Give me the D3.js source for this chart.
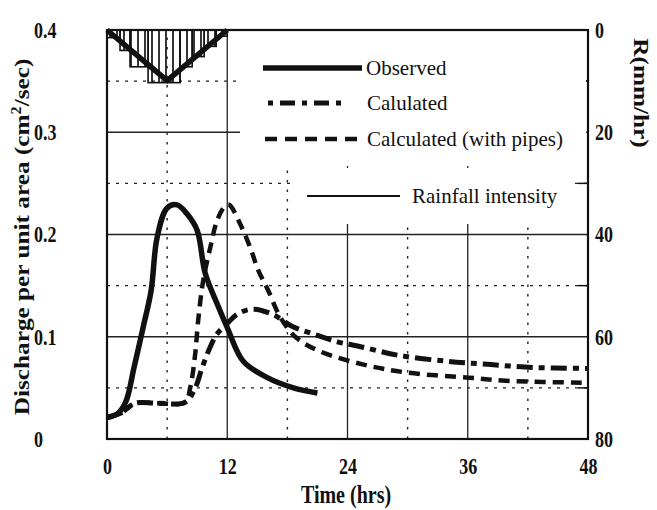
<!DOCTYPE html>
<html>
<head>
<meta charset="utf-8">
<script src="https://cdn.jsdelivr.net/npm/d3@7"></script>
<style>
body{margin:0;background:#fff;}
text{font-family:"Liberation Serif","Times New Roman",serif;fill:#111;}
</style>
</head>
<body>
<div id="container"></div>
<script>
var width = 657;
var height = 510;

// observed hydrograph (hrs, cm2/sec per unit area)
var obsT = [0, 1.1, 1.9, 2.7, 3.6, 4.4, 5.0, 6.0, 7.0, 8.0, 9.0, 9.8, 11.0, 12.0, 13.6, 16.0, 18.6, 21.0];
var obsQ = [0.021, 0.025, 0.037, 0.07, 0.109, 0.145, 0.197, 0.226, 0.229, 0.22, 0.204, 0.162, 0.132, 0.109, 0.076, 0.06, 0.05, 0.045];

// calculated (dash-dot)
var calT = [0, 1.5, 2.8, 5.0, 7.8, 8.8, 9.5, 10.3, 11.0, 12.0, 13.0, 14.5, 16.5, 18.5, 20.5, 23.0, 25.0, 29.0, 34.0, 38.0, 42.5, 48.0];
var calQ = [0.021, 0.026, 0.035, 0.035, 0.036, 0.05, 0.07, 0.09, 0.103, 0.113, 0.122, 0.127, 0.122, 0.11, 0.103, 0.095, 0.091, 0.082, 0.076, 0.073, 0.070, 0.069];

// calculated with pipes (dashed)
var pipT = [0, 1.5, 2.8, 5.0, 7.8, 8.3, 8.8, 9.1, 9.6, 10.3, 11.0, 11.8, 12.2, 13.3, 14.3, 15.1, 16.1, 17.3, 18.9, 21.2, 25.5, 29.9, 36.1, 39.8, 48.0];
var pipQ = [0.021, 0.026, 0.035, 0.035, 0.036, 0.05, 0.083, 0.116, 0.155, 0.187, 0.214, 0.228, 0.229, 0.21, 0.187, 0.165, 0.145, 0.119, 0.099, 0.086, 0.073, 0.065, 0.06, 0.057, 0.055];

// rainfall hyetograph (mm/hr), bar edges in hrs
var rainEdges = [0, 1.3, 2.3, 4.1, 7.3, 8.5, 9.7, 10.9, 12];
var rainR = [1.5, 4, 7.2, 10.3, 7.2, 5.2, 3.2, 1.2];
// rainfall intensity line
var rainLineT = [0, 6, 12];
var rainLineR = [0, 9.9, 0];

var xTicks = [0, 12, 24, 36, 48];
var yTicks = [0, 0.1, 0.2, 0.3, 0.4];
var rTicks = [0, 20, 40, 60, 80];
var rMinor = [10, 30, 50, 70];

var legendNames = ["Observed", "Calulated", "Calculated (with pipes)", "Rainfall intensity"];

var x = d3.scaleLinear().domain([0, 48]).range([107, 588]);
var y = d3.scaleLinear().domain([0, 0.4]).range([439, 30]);
var r = d3.scaleLinear().domain([0, 80]).range([30, 439]);

var svg = d3.select("div#container").append("svg")
	.attr("width", width)
	.attr("height", height)
	.style("background", "white");

var defs = svg.append("defs");
var pat = defs.append("pattern")
	.attr("id", "hatch")
	.attr("patternUnits", "userSpaceOnUse")
	.attr("width", 7)
	.attr("height", 10)
	.attr("x", 107);
pat.append("line")
	.attr("x1", 3).attr("x2", 3)
	.attr("y1", 0).attr("y2", 10)
	.attr("stroke", "#111")
	.attr("stroke-width", 1.7);

// grid lines
var G = svg.append("g").attr("id", "grid");
var xGrid = d3.range(6, 48, 6);
var yGrid = d3.range(1, 8).map(function(i){ return i * 0.05; });

G.selectAll("line.xg")
	.data(xGrid)
	.enter()
	.append("line")
	.attr("class", "xg")
	.attr("x1", function(d){ return x(d); })
	.attr("x2", function(d){ return x(d); })
	.attr("y1", y(0))
	.attr("y2", y(0.4))
	.attr("stroke", "#222")
	.attr("stroke-width", function(d){ return d % 12 == 0 ? 1.3 : 1.4; })
	.attr("stroke-dasharray", function(d){ return d % 12 == 0 ? null : "2.5,7"; });

G.selectAll("line.yg")
	.data(yGrid)
	.enter()
	.append("line")
	.attr("class", "yg")
	.attr("x1", x(0))
	.attr("x2", x(48))
	.attr("y1", function(d){ return y(d); })
	.attr("y2", function(d){ return y(d); })
	.attr("stroke", "#222")
	.attr("stroke-width", function(d,i){ return (i % 2 == 1) ? 1.3 : 1.4; })
	.attr("stroke-dasharray", function(d,i){ return (i % 2 == 1) ? null : "3,6"; });

// right axis minor ticks (inside)
G.selectAll("line.rm")
	.data(rMinor)
	.enter()
	.append("line")
	.attr("class", "rm")
	.attr("x1", x(48) - 10).attr("x2", x(48))
	.attr("y1", function(d){ return r(d); })
	.attr("y2", function(d){ return r(d); })
	.attr("stroke", "#111")
	.attr("stroke-width", 1.5);

// legend boxes hide the grid behind them
svg.append("rect").attr("x", 240).attr("y", 31).attr("width", 346).attr("height", 135).attr("fill", "white");
svg.append("rect").attr("x", 292).attr("y", 168).attr("width", 282).attr("height", 56).attr("fill", "white");

// hyetograph bars
var bars = rainR.map(function(v, i){ return {t0: rainEdges[i], t1: rainEdges[i+1], R: v}; });
svg.append("g").selectAll("rect")
	.data(bars)
	.enter()
	.append("rect")
	.attr("x", function(d){ return x(d.t0); })
	.attr("y", r(0))
	.attr("width", function(d){ return x(d.t1) - x(d.t0); })
	.attr("height", function(d){ return r(d.R) - r(0); })
	.attr("fill", "url(#hatch)")
	.attr("stroke", "#111")
	.attr("stroke-width", 1.6);

svg.append("path")
	.datum(rainLineT.map(function(t, i){ return [t, rainLineR[i]]; }))
	.attr("fill", "none")
	.attr("stroke", "#111")
	.attr("stroke-width", 5.5)
	.attr("stroke-linejoin", "round")
	.attr("d", d3.line().x(function(d){ return x(d[0]); }).y(function(d){ return r(d[1]); }));

// hydrographs
function pts(ts, qs){ return ts.map(function(t, i){ return [t, qs[i]]; }); }
var line = d3.line()
	.x(function(d){ return x(d[0]); })
	.y(function(d){ return y(d[1]); })
	.curve(d3.curveCatmullRom.alpha(0.5));

var series = [
	{name: legendNames[0], data: pts(obsT, obsQ), w: 5.5, dash: null},
	{name: legendNames[1], data: pts(calT, calQ), w: 5, dash: "16,6,6,6"},
	{name: legendNames[2], data: pts(pipT, pipQ), w: 4.5, dash: "11,7"}
];

svg.append("g").selectAll("path")
	.data(series.slice().reverse())
	.enter()
	.append("path")
	.attr("fill", "none")
	.attr("stroke", "#111")
	.attr("stroke-width", function(d){ return d.w; })
	.attr("stroke-dasharray", function(d){ return d.dash; })
	.attr("stroke-linecap", "butt")
	.attr("d", function(d){ return line(d.data); });

// frame
svg.append("rect")
	.attr("x", x(0)).attr("y", y(0.4))
	.attr("width", x(48) - x(0)).attr("height", y(0) - y(0.4))
	.attr("fill", "none")
	.attr("stroke", "#111")
	.attr("stroke-width", 2.2);

// axes labels (the scanned figure is stretched vertically, so the glyphs are too)
var fmtY = function(d){ return d == 0 ? "0" : d3.format(".1f")(d); };
var ax = svg.append("g")
	.attr("transform", "translate(0," + y(0) + ")")
	.call(d3.axisBottom(x).tickValues(xTicks).tickSize(0).tickPadding(20));
var ay = svg.append("g")
	.attr("transform", "translate(" + x(0) + ",0)")
	.call(d3.axisLeft(y).tickValues(yTicks).tickFormat(fmtY).tickSize(0).tickPadding(0));
var ar = svg.append("g")
	.attr("transform", "translate(" + x(48) + ",0)")
	.call(d3.axisRight(r).tickValues(rTicks).tickSize(0).tickPadding(7));

[ax, ay, ar].forEach(function(a){
	a.select(".domain").remove();
	a.selectAll("text")
		.style("font-family", "'Liberation Serif', serif")
		.style("font-weight", "bold")
		.style("font-size", "18px")
		.attr("fill", "#111");
});
ay.selectAll("text").attr("text-anchor", "start").attr("x", 34 - x(0))
	.attr("transform", "scale(1,1.3)");
ar.selectAll("text").attr("transform", "scale(1,1.3)");
ax.selectAll("text").attr("transform", "translate(0,26) scale(1,1.3) translate(0,-26)");

// titles
svg.append("text")
	.attr("transform", "translate(346,503) scale(1,1.25)")
	.attr("text-anchor", "middle")
	.style("font-weight", "bold").style("font-size", "20px")
	.text("Time (hrs)");

var yt = svg.append("text")
	.attr("transform", "translate(29,237) rotate(-90) scale(1.15,1)")
	.attr("text-anchor", "middle")
	.style("font-weight", "bold").style("font-size", "22px");
yt.append("tspan").text("Discharge per unit area (cm");
yt.append("tspan").attr("dy", -8).style("font-size", "14px").text("2");
yt.append("tspan").attr("dy", 8).text("/sec)");

svg.append("text")
	.attr("transform", "translate(634,93) rotate(90) scale(1.15,1)")
	.attr("text-anchor", "middle")
	.style("font-weight", "bold").style("font-size", "22px")
	.text("R(mm/hr)");

// legend
var legend = [
	{name: legendNames[0], x1: 263, x2: 362, y: 68, w: 5.5, dash: null, tx: 366},
	{name: legendNames[1], x1: 268, x2: 343, y: 103, w: 5, dash: "5,7,15,7", tx: 367},
	{name: legendNames[2], x1: 265, x2: 362, y: 139, w: 4.5, dash: "12,8", tx: 367},
	{name: legendNames[3], x1: 307, x2: 400, y: 196, w: 2, dash: null, tx: 412}
];
var L = svg.append("g").attr("id", "legend");
L.selectAll("line")
	.data(legend)
	.enter()
	.append("line")
	.attr("x1", function(d){ return d.x1; })
	.attr("x2", function(d){ return d.x2; })
	.attr("y1", function(d){ return d.y; })
	.attr("y2", function(d){ return d.y; })
	.attr("stroke", "#111")
	.attr("stroke-width", function(d){ return d.w; })
	.attr("stroke-dasharray", function(d){ return d.dash; });
L.selectAll("text")
	.data(legend)
	.enter()
	.append("text")
	.attr("x", function(d){ return d.tx; })
	.attr("y", function(d){ return d.y + 7; })
	.style("font-size", "21px")
	.text(function(d){ return d.name; });
</script>
</body>
</html>
